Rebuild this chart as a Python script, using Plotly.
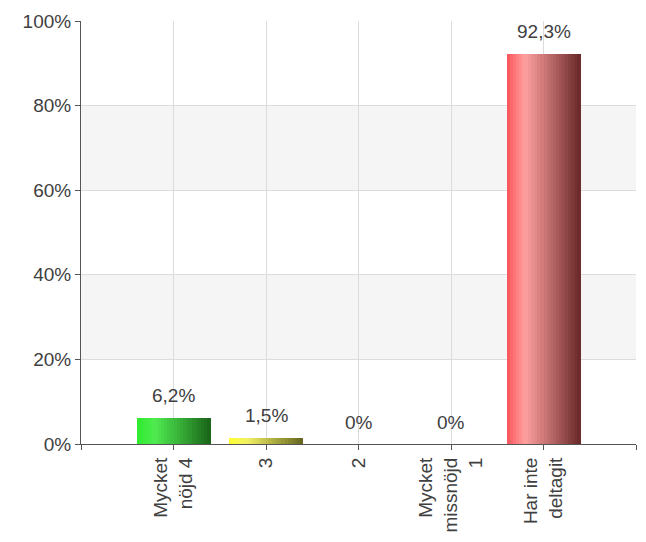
import plotly.graph_objects as go

categories = ["Mycket<br>nöjd 4", "3", "2", "Mycket<br>missnöjd<br>1", "Har inte<br>deltagit"]
values = [6.2, 1.5, 0.0, 0.0, 92.3]
value_labels = ["6,2%", "1,5%", "0%", "0%", "92,3%"]
y_ticks = [0, 20, 40, 60, 80, 100]
y_tick_labels = ["0%", "20%", "40%", "60%", "80%", "100%"]

# gradient stops per bar (left -> highlight -> right)
grad = [
    [(45, 235, 45), (80, 235, 80), (25, 100, 25)],
    [(255, 255, 50), (240, 240, 100), (100, 100, 30)],
    [(240, 150, 150), (240, 150, 150), (120, 120, 120)],
    [(200, 200, 200), (200, 200, 200), (120, 120, 120)],
    [(250, 85, 90), (255, 160, 160), (105, 40, 40)],
]

def lerp(a, b, t):
    return tuple(int(round(a[i] + (b[i] - a[i]) * t)) for i in range(3))

def color_at(stops, t):
    if t < 0.25:
        return lerp(stops[0], stops[1], t / 0.25)
    return lerp(stops[1], stops[2], (t - 0.25) / 0.75)

FONT = "Liberation Sans, Arial, sans-serif"
fig = go.Figure()
xpos = list(range(1, len(categories) + 1))
bar_w = 0.8
n = 24
sw = bar_w / n
for k in range(n):
    t = (k + 0.5) / n
    cols = ["rgb(%d,%d,%d)" % color_at(g, t) for g in grad]
    fig.add_trace(go.Bar(
        x=xpos, y=values, width=sw * 1.05, offset=-bar_w / 2 + k * sw,
        marker=dict(color=cols, line=dict(width=0)),
        hoverinfo="skip", showlegend=False,
    ))

for xv, yv, lab in zip(xpos, values, value_labels):
    fig.add_annotation(x=xv, y=yv, text=lab, showarrow=False,
                       yanchor="middle", yshift=22,
                       font=dict(family=FONT, size=19, color="#404040"))

# alternating bands
for lo, hi in [(20, 40), (60, 80)]:
    fig.add_shape(type="rect", xref="paper", yref="y", x0=0, x1=1, y0=lo, y1=hi,
                  fillcolor="#f5f5f5", line=dict(width=0), layer="below")

fig.update_layout(
    width=638, height=534,
    margin=dict(l=73, r=10, t=13, b=98, autoexpand=False),
    plot_bgcolor="white", paper_bgcolor="white",
    barmode="overlay", bargap=0,
    font=dict(family=FONT, size=19, color="#404040"),
    xaxis=dict(
        range=[0, 6], tickmode="array", tickvals=xpos, ticktext=categories,
        tickangle=-90, showgrid=True, gridcolor="#dcdcdc", gridwidth=1,
        showline=True, linecolor="#555555", linewidth=1,
        ticks="outside", ticklen=5, tickcolor="#555555",
        tickfont=dict(family=FONT, size=19, color="#404040"), zeroline=False,
        minor=dict(tickvals=[0, 6], ticks="outside", ticklen=5,
                   tickcolor="#555555", showgrid=False),
    ),
    yaxis=dict(
        range=[0, 100], tickmode="array", tickvals=y_ticks, ticktext=y_tick_labels,
        showgrid=True, gridcolor="#dcdcdc", gridwidth=1,
        showline=True, linecolor="#555555", linewidth=1,
        ticks="outside", ticklen=5, tickcolor="#555555",
        tickfont=dict(family=FONT, size=19, color="#404040"), zeroline=False,
    ),
)

fig.write_html("out.html")
